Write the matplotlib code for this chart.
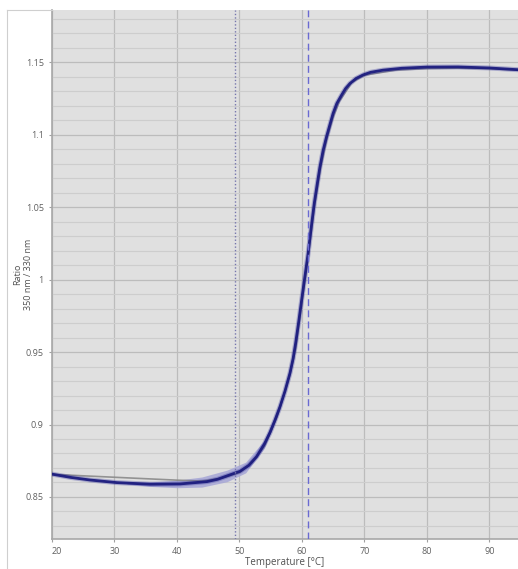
import numpy as np
import matplotlib
matplotlib.use("Agg")
import matplotlib.pyplot as plt
from matplotlib.lines import Line2D

plt.rcParams['font.family'] = ['Open Sans', 'DejaVu Sans']

# ---- data ----
temp = [20.2, 23.0, 26.1, 30.4, 35.7, 40.5, 44.8, 46.5, 48.0, 50.1, 51.5, 52.75, 54.0,
        54.9, 55.7, 56.5, 57.3, 58.1, 58.6, 59.0, 59.5, 60.0, 60.5, 61.0, 61.5, 62.0,
        62.5, 62.9, 63.4, 63.95, 64.5, 65.0, 65.6, 66.35, 67.0, 67.7, 68.7, 69.8, 71.0,
        73.0, 76.0, 80.0, 85.0, 90.0, 94.6]
ratio = [0.8656, 0.8635, 0.8617, 0.8599, 0.8588, 0.8590, 0.8606, 0.8622, 0.8645, 0.8677,
         0.8718, 0.8778, 0.8865, 0.8945, 0.9030, 0.9123, 0.9230, 0.9355, 0.9455, 0.9560,
         0.9710, 0.9870, 1.0025, 1.0180, 1.0360, 1.0530, 1.0670, 1.0778, 1.0890, 1.0985,
         1.1070, 1.1146, 1.1215, 1.1272, 1.1318, 1.1353, 1.1388, 1.1412, 1.1430, 1.1445,
         1.1458, 1.1466, 1.1467, 1.1460, 1.1448]

fit_temp = [20.2, 25.0, 30.0, 35.0, 40.0, 44.0, 47.0, 50.0, 52.0, 54.0, 56.0, 58.0,
            59.0, 60.0, 61.0, 62.0, 63.0, 64.0, 65.0, 66.0, 68.0, 70.0, 75.0, 80.0,
            85.0, 90.0, 94.6]
fit_ratio = [0.8656, 0.8646, 0.8636, 0.8626, 0.8616, 0.8610, 0.8628, 0.8668, 0.8735, 0.8850,
             0.9050, 0.9330, 0.9520, 0.9840, 1.0150, 1.0500, 1.0770, 1.0970, 1.1120, 1.1230,
             1.1360, 1.1410, 1.1445, 1.1456, 1.1459, 1.1455, 1.1445]

band_temp = [32.0, 36.0, 40.0, 44.0, 48.0, 51.0, 54.0, 56.5, 58.5]
band_half = [0.0006, 0.0016, 0.0026, 0.0035, 0.0040, 0.0037, 0.0028, 0.0016, 0.0005]

onset_temp = 49.3
tm_temp = 61.0

xticks = [20, 30, 40, 50, 60, 70, 80, 90]
yticks = [0.85, 0.9, 0.95, 1.0, 1.05, 1.1, 1.15]
yticklabels = ["0.85", "0.9", "0.95", "1", "1.05", "1.1", "1.15"]

# ---- figure ----
fig = plt.figure(figsize=(5.18, 5.69), dpi=100)
ax = fig.add_axes([52/518, 1 - 539/569, 1 - 52/518, (539 - 10)/569])
ax.set_facecolor('#e0e0e0')

# outer frame lines
fig.add_artist(Line2D([7/518, 7/518], [0, 1 - 10/569], transform=fig.transFigure,
                      color='#cfcfcf', lw=0.8))
fig.add_artist(Line2D([7/518, 52/518], [1 - 10/569, 1 - 10/569], transform=fig.transFigure,
                      color='#cfcfcf', lw=0.8))

ax.set_xlim(20, 94.6)
ax.set_ylim(0.821, 1.186)

ax.set_xticks(xticks)
ax.set_yticks(yticks)
ax.set_yticklabels(yticklabels)
ax.set_yticks(np.arange(0.83, 1.19, 0.01), minor=True)
ax.grid(True, which='major', color='#bcbcbc', lw=0.9)
ax.grid(True, which='minor', axis='y', color='#cdcdcd', lw=0.8)
ax.set_axisbelow(True)
ax.tick_params(axis='both', which='major', labelsize=6.5, labelcolor='#606060',
               color='#a0a0a0', length=2.5, width=0.8)
ax.tick_params(axis='y', which='minor', length=0)
ax.get_xticklabels()[0].set_ha('left')
for s in ['top', 'right']:
    ax.spines[s].set_visible(False)
for s in ['left', 'bottom']:
    ax.spines[s].set_color('#a8a8a8')
    ax.spines[s].set_linewidth(1.2)

# confidence band
bt = np.array(band_temp)
bc = np.interp(bt, temp, ratio)
bh = np.array(band_half)
ax.fill_between(bt, bc - bh, bc + bh, color='#a6a6d6', alpha=0.85, lw=0, zorder=2)

# fit (behind data)
ax.plot(fit_temp, fit_ratio, color='#8a8a8a', lw=1.2, alpha=0.9, zorder=3)
# data
ax.plot(temp, ratio, color='#2a2a9a', lw=3.6, alpha=0.3, zorder=4)
ax.plot(temp, ratio, color='#1c1c7e', lw=2.0, alpha=0.95, zorder=4)

# markers
ax.axvline(onset_temp, color='#7676ad', lw=1.0, ls=(0, (1, 1.5)), zorder=5)
ax.axvline(tm_temp, color='#6a6ad2', lw=1.0, ls=(0, (5, 3)), zorder=5)

ax.set_xlabel('Temperature [°C]', fontsize=7, color='#505050')
ax.xaxis.set_label_coords(0.5, (539 - 563) / 529)
ax.xaxis.label.set_va('center')
ax.set_ylabel('Ratio\n350 nm / 330 nm', fontsize=6.5, color='#505050', linespacing=1.3)
ax.yaxis.set_label_coords((23 - 52) / 466, 0.5)
ax.yaxis.label.set_va('center')

fig.savefig('out.png', dpi=100)
